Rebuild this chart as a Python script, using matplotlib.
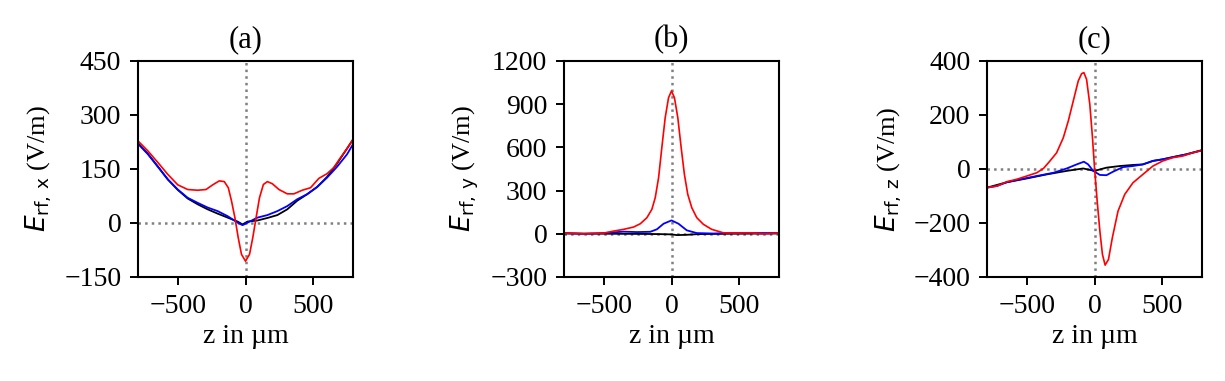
# =============================================================================
# Campo rf a lo largo de z: componentes x, y, z
# =============================================================================
import numpy as np
import matplotlib.pyplot as plt

plt.rcParams['font.family'] = ['Liberation Serif', 'DejaVu Serif']
plt.rcParams['mathtext.fontset'] = 'dejavusans'
plt.rcParams['font.size'] = 19

# ----- (a) E_rf,x -----
za_red = [-800, -726, -652, -578, -504, -430, -356, -294, -244, -195, -158, -128, -104, -79, -54, -30, 0,
          30, 54, 79, 104, 133, 163, 200, 249, 311, 360, 422, 484, 546, 607, 657, 706, 756, 800]
ea_red = [228, 200, 168, 135, 106, 93, 91, 93, 106, 117, 115, 98, 61, 15, -41, -87, -106,
          -87, -41, 15, 70, 107, 115, 109, 93, 81, 81, 91, 98, 124, 137, 154, 181, 207, 232]
za_blue = [-800, -726, -652, -578, -504, -430, -356, -282, -207, -133, -59, -22, 15, 89, 163, 237, 311,
           385, 459, 533, 607, 681, 756, 800]
ea_blue = [220, 191, 156, 121, 93, 70, 56, 43, 33, 19, 1, -6, 1, 15, 22, 33, 47,
           66, 80, 100, 126, 156, 191, 219]
za_black = [-800, -726, -652, -578, -504, -430, -356, -282, -207, -133, -59, -22, 15, 89, 163, 237, 311,
            385, 459, 533, 607, 681, 756, 800]
ea_black = [222, 192, 157, 121, 92, 68, 52, 38, 26, 15, 4, -4, 4, 7, 14, 22, 38,
            62, 80, 100, 128, 165, 207, 232]

# ----- (b) E_rf,y -----
zb_red = [-800, -652, -504, -430, -356, -282, -232, -183, -146, -121, -96, -72, -47, -22, 0,
          22, 47, 72, 96, 121, 151, 188, 237, 299, 385, 484, 583, 681, 800]
eb_red = [5, 0, 5, 19, 31, 47, 70, 112, 170, 251, 390, 598, 806, 945, 992,
          945, 806, 598, 413, 274, 181, 112, 66, 31, 7, 5, 7, 0, 5]
zb_blue = [-800, -652, -504, -356, -257, -158, -109, -59, 0, 52, 114, 188, 311, 435, 583, 800]
eb_blue = [5, 0, 5, 15, 12, 14, 31, 70, 93, 70, 24, 5, 2, 5, 5, 5]
zb_black = [-800, -400, -200, -100, 0, 40, 114, 200, 400, 800]
eb_black = [2, 0, -1, -2, -4, -9, -7, -2, 0, 2]

# ----- (c) E_rf,z -----
zc_red = [-800, -726, -652, -578, -504, -430, -380, -331, -282, -232, -195, -158, -121, -96, -79, -59, -35, -15, 0,
          20, 40, 59, 79, 104, 133, 175, 225, 286, 360, 435, 509, 583, 657, 731, 800]
ec_red = [-69, -63, -47, -38, -26, -14, 2, 30, 60, 116, 178, 252, 326, 353, 357, 332, 240, 116, 5,
          -119, -230, -316, -356, -335, -254, -156, -94, -51, -20, 11, 30, 42, 48, 60, 69]
zc_blue = [-800, -726, -652, -578, -430, -306, -207, -133, -79, -47, -10, 40, 89, 138, 212, 286, 360,
           435, 509, 583, 681, 800]
ec_blue = [-69, -63, -49, -41, -26, -14, 2, 17, 27, 17, -7, -22, -23, -10, 7, 11, 17,
           30, 36, 44, 54, 69]
zc_black = [-800, -652, -504, -356, -207, -84, 0, 89, 188, 286, 360, 435, 509, 583, 681, 800]
ec_black = [-69, -49, -35, -20, -7, 2, -7, 5, 11, 15, 17, 30, 36, 44, 54, 70]

paneles = [
    ('(a)', r'$E_{\mathrm{rf,\,x}}$ (V/m)', (-150, 450), [-150, 0, 150, 300, 450],
     (za_black, ea_black), (za_blue, ea_blue), (za_red, ea_red)),
    ('(b)', r'$E_{\mathrm{rf,\,y}}$ (V/m)', (-300, 1200), [-300, 0, 300, 600, 900, 1200],
     (zb_black, eb_black), (zb_blue, eb_blue), (zb_red, eb_red)),
    ('(c)', r'$E_{\mathrm{rf,\,z}}$ (V/m)', (-400, 400), [-400, -200, 0, 200, 400],
     (zc_black, ec_black), (zc_blue, ec_blue), (zc_red, ec_red)),
]

fig = plt.figure(figsize=(12.25, 3.81), dpi=100)
lefts = [138 / 1225, 564 / 1225, 987 / 1225]

for left, (titulo, ylab, ylim, yticks, negro, azul, rojo) in zip(lefts, paneles):
    ax = fig.add_axes([left, 104 / 381, 215 / 1225, 216 / 381])
    ax.plot(negro[0], negro[1], color='black', lw=1.3)
    ax.plot(azul[0], azul[1], color='blue', lw=1.3)
    ax.plot(rojo[0], rojo[1], color='red', lw=1.2)
    ax.axvline(0, color='gray', ls=':', lw=1.8, zorder=0)
    ax.axhline(0, color='gray', ls=':', lw=1.8, zorder=0)
    ax.set_xlim(-800, 800)
    ax.set_ylim(*ylim)
    ax.set_yticks(yticks)
    ax.set_xticks([-500, 0, 500])
    ax.set_title(titulo, fontsize=22, pad=10)
    ax.set_xlabel('z in µm', fontsize=20, labelpad=4)
    ax.set_ylabel(ylab, fontsize=19, labelpad=7)
    ax.tick_params(length=6, width=1.4, labelsize=20, pad=6)
    for s in ax.spines.values():
        s.set_linewidth(1.5)

fig.savefig('out.png', dpi=100)
